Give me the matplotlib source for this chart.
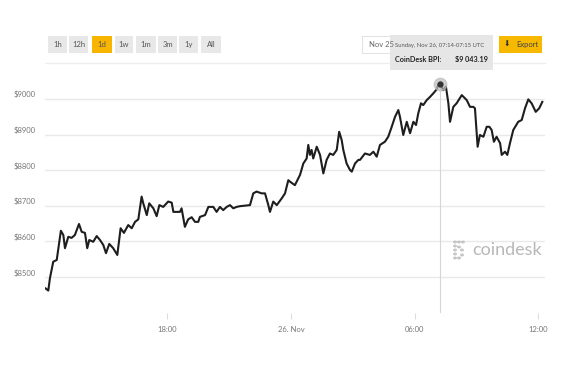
import matplotlib
matplotlib.use("Agg")
import matplotlib.pyplot as plt
import matplotlib.dates as mdates
from matplotlib.patches import Rectangle, Circle
import pandas as pd

plt.rcParams['font.family'] = ['Lato', 'DejaVu Sans']

# hours relative to 26 Nov 00:00 UTC, and CoinDesk BPI price (USD)
hours = [-11.91, -11.78, -11.70, -11.54, -11.37, -11.17, -11.05, -10.97, -10.81, -10.65,
         -10.49, -10.29, -10.16, -10.00, -9.89, -9.79, -9.60, -9.43, -9.27, -9.11,
         -8.98, -8.82, -8.63, -8.43, -8.27, -8.11, -7.90, -7.73, -7.57, -7.41,
         -7.25, -7.17, -7.00, -6.88, -6.68, -6.52, -6.39, -6.20, -5.96, -5.79,
         -5.71, -5.39, -5.31, -5.15, -4.99, -4.82, -4.66, -4.50, -4.42, -4.17,
         -4.01, -3.77, -3.61, -3.45, -3.29, -3.12, -2.96, -2.80, -2.64, -2.48,
         -1.99, -1.83, -1.67, -1.42, -1.26, -1.10, -1.02, -0.86, -0.69, -0.45,
         -0.29, -0.13, -0.05, 0.19, 0.44, 0.60, 0.76, 0.84, 0.92, 1.00,
         1.08, 1.25, 1.41, 1.57, 1.73, 1.89, 2.05, 2.22, 2.34, 2.46,
         2.54, 2.70, 2.86, 2.95, 3.11, 3.27, 3.35, 3.59, 3.83, 4.00,
         4.16, 4.32, 4.56, 4.72, 4.89, 5.05, 5.21, 5.29, 5.45, 5.62,
         5.78, 5.94, 6.07, 6.18, 6.31, 6.42, 6.59, 6.75, 6.91, 7.07,
         7.15, 7.24, 7.39, 7.52, 7.64, 7.72, 7.88, 8.04, 8.29, 8.53,
         8.69, 8.85, 8.93, 9.06, 9.17, 9.34, 9.50, 9.63, 9.74, 9.85,
         9.98, 10.15, 10.23, 10.39, 10.50, 10.63, 10.79, 11.03, 11.20, 11.36,
         11.52, 11.68, 11.88, 12.05, 12.20]
prices = [8468, 8462, 8497, 8543, 8548, 8630, 8618, 8581, 8613, 8610,
          8618, 8649, 8627, 8624, 8581, 8604, 8599, 8615, 8604, 8590,
          8567, 8593, 8581, 8562, 8637, 8624, 8646, 8637, 8655, 8662,
          8726, 8707, 8674, 8707, 8693, 8671, 8702, 8697, 8712, 8709,
          8683, 8683, 8693, 8641, 8662, 8668, 8655, 8655, 8669, 8674,
          8697, 8697, 8683, 8697, 8688, 8697, 8702, 8693, 8697, 8699,
          8702, 8735, 8740, 8735, 8735, 8702, 8683, 8712, 8702, 8721,
          8735, 8772, 8768, 8758, 8787, 8819, 8833, 8871, 8843, 8857,
          8833, 8866, 8843, 8791, 8829, 8847, 8843, 8857, 8908, 8885,
          8857, 8819, 8801, 8796, 8819, 8829, 8829, 8847, 8843, 8852,
          8838, 8871, 8880, 8894, 8922, 8950, 8969, 8950, 8899, 8936,
          8904, 8936, 8927, 8960, 8988, 8983, 8997, 9006, 9016, 9027,
          9040, 9043.19, 9025, 9035, 8988, 8936, 8978, 8988, 9011, 8997,
          8978, 8978, 8974, 8866, 8899, 8894, 8922, 8922, 8913, 8880,
          8894, 8876, 8843, 8852, 8843, 8876, 8913, 8936, 8941, 8974,
          8999, 8988, 8964, 8974, 8992]

y_ticks = [8500, 8600, 8700, 8800, 8900, 9000]
x_tick_hours = [-6, 0, 6, 12]
x_tick_labels = ["18:00", "26. Nov", "06:00", "12:00"]
ranges = ["1h", "12h", "1d", "1w", "1m", "3m", "1y", "All"]

base = pd.Timestamp("2017-11-26 00:00")
times = base + pd.to_timedelta(hours, unit="h")
peak_i = prices.index(max(prices))

W, H = 579, 382
fig = plt.figure(figsize=(W / 100, H / 100), dpi=100)
ax = fig.add_axes([45 / W, 1 - 313 / H, 500 / W, 250.3 / H])

# gridlines
for v in y_ticks:
    ax.axhline(v, color="#e9e9e9", lw=1.0, zorder=0)

ax.plot(times, prices, color="#1e1e1e", lw=1.5, solid_joinstyle="round", zorder=3)

# crosshair + hovered point
ax.axvline(times[peak_i], ymax=0.93, color="#d6d6d6", lw=0.8, zorder=1)
ax.plot(times[peak_i], prices[peak_i], "o", ms=9, color="#bdbdbd", alpha=0.7, zorder=4)
ax.plot(times[peak_i], prices[peak_i], "o", ms=3.5, color="#333333", zorder=5)

ax.set_ylim(8399, 9102)
ax.set_xlim(base + pd.Timedelta(hours=-11.94), base + pd.Timedelta(hours=12.33))
ax.set_yticks(y_ticks)
ax.set_yticklabels([])
for v in y_ticks:
    ax.text(-0.018, v + 12, f"${v}", transform=ax.get_yaxis_transform(),
            ha="right", va="center", fontsize=5.5, color="#777777")
ax.set_xticks([base + pd.Timedelta(hours=h) for h in x_tick_hours])
ax.set_xticklabels(x_tick_labels, fontsize=5.5, color="#777777")
ax.tick_params(axis="x", length=4, color="#dddddd", pad=5)
ax.tick_params(axis="y", length=0)
for s in ["left", "right", "bottom"]:
    ax.spines[s].set_visible(False)
ax.spines["top"].set_color("#eeeeee")
ax.spines["top"].set_linewidth(1.0)

# watermark
ax.text(0.855, 0.25, "coindesk", transform=ax.transAxes, fontsize=13,
        color="#b8b8b8", ha="left", va="center", zorder=2)
icon_pts = [(455, 242), (459, 242), (463, 242), (455, 246), (455, 250), (455, 254),
            (455, 258), (459, 258), (462, 250), (462, 255), (459, 247)]
for px_, py_ in icon_pts:
    fig.add_artist(Circle((px_ / W, 1 - py_ / H), 1.3 / W, transform=fig.transFigure,
                          facecolor="none", edgecolor="#bdbdbd", lw=0.8))


def box(x0, y0, x1, y1, fc, ec="none", lw=0.0):
    fig.add_artist(Rectangle((x0 / W, 1 - y1 / H), (x1 - x0) / W, (y1 - y0) / H,
                             transform=fig.transFigure, facecolor=fc, edgecolor=ec, lw=lw))


def txt(x, y, s, **kw):
    fig.text(x / W, 1 - y / H, s, **kw)


# range buttons
btn_x = [48, 69, 92, 115, 136, 158, 179, 201]
btn_w = [19, 19, 20, 18, 20, 19, 19, 20]
for label, bx, bw in zip(ranges, btn_x, btn_w):
    fc = "#f7b500" if label == "1d" else "#e8e8e8"
    box(bx, 36, bx + bw, 53, fc)
    txt(bx + bw / 2, 44.5, label, ha="center", va="center", fontsize=5.5, color="#555555")

# date box and export
box(362, 36, 440, 53, "white", ec="#dddddd", lw=0.6)
txt(369, 44.5, "Nov 25", ha="left", va="center", fontsize=5.5, color="#666666")
box(499, 36, 542, 53, "#f7b800")
txt(507, 44.5, "\u2b07", ha="center", va="center", fontsize=5.5, color="#333333",
    family=["DejaVu Sans"])
txt(527, 44.5, "Export", ha="center", va="center", fontsize=5.5, color="#444444")

# tooltip
box(390, 35, 493, 70, "#e6e6e6")
txt(395, 46, "Sunday, Nov 26, 07:14-07:15 UTC", ha="left", va="center",
    fontsize=4.2, color="#555555")
txt(395, 59, "CoinDesk BPI:", ha="left", va="center", fontsize=5.2,
    color="#222222", weight="bold")
txt(488, 59, "$9 043.19", ha="right", va="center", fontsize=5.2,
    color="#222222", weight="bold")

fig.savefig("out.png", dpi=100)
